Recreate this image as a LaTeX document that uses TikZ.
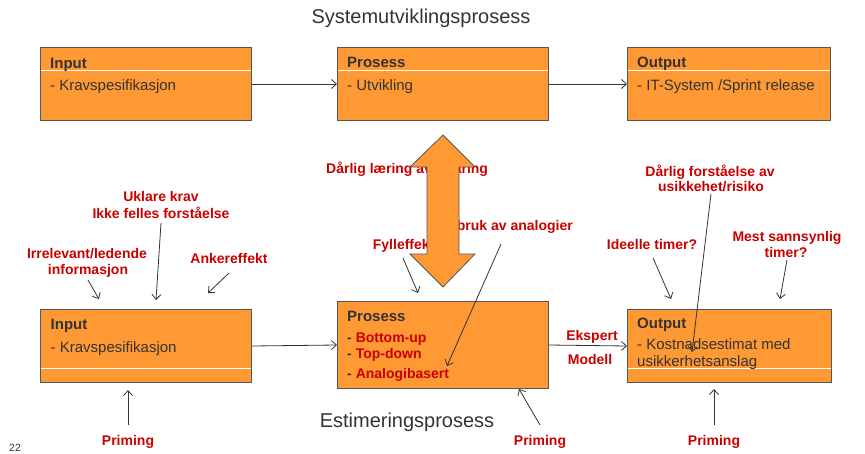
\documentclass[tikz,border=0pt]{standalone}
\usepackage{fontspec}
\setmainfont{Liberation Sans}
\usetikzlibrary{arrows.meta}
\definecolor{boxfill}{RGB}{255,153,51}
\definecolor{boxline}{RGB}{85,85,85}
\definecolor{txt}{RGB}{51,51,51}
\definecolor{warn}{RGB}{200,0,0}

\begin{document}
\begin{tikzpicture}[x=1pt,y=-1pt,
  box/.style={draw=boxline, line width=1pt, fill=boxfill, anchor=north west,
    inner sep=0pt, minimum width=#1, minimum height=73pt},
  box/.default=211pt,
  sep/.style={draw=white, line width=1pt},
  title/.style={font=\fontsize{20}{24}\selectfont, text=txt, anchor=base, inner sep=0pt},
  head/.style={font=\fontsize{15}{18}\selectfont\bfseries, text=txt, anchor=base west, inner sep=0pt},
  item/.style={font=\fontsize{15}{18}\selectfont, text=txt, anchor=base west, inner sep=0pt},
  ritem/.style={font=\fontsize{14}{17}\selectfont\bfseries, text=warn, anchor=base west, inner sep=0pt},
  note/.style={font=\fontsize{14}{17}\selectfont\bfseries, text=warn, anchor=base, inner sep=0pt},
  arr/.style={draw=txt, line width=0.8pt, -{Straight Barb[length=5pt,width=9pt]}},
  bigarrow/.style={fill=boxfill, draw=boxline, line width=0.8pt, line join=miter}
]
\useasboundingbox (0,0) rectangle (865,453);

% ---------- system development process ----------
\node[title] (systitle) at (421,23) {Systemutviklingsprosess};

\node[box] (in1) at (40,47) {};
\node[box] (pr1) at (337,47) {};
\node[box=203pt] (out1) at (627,47) {};
\draw[sep] (40.5,70) -- (250.5,70);
\draw[sep] (337.5,70) -- (547.5,70);
\draw[sep] (627.5,70) -- (829.5,70);

\node[head] (in1h) at (50,68) {Input};
\node[item] (in1t) at (50,90.5) {- Kravspesifikasjon};
\node[head] (pr1h) at (347,67.5) {Prosess};
\node[item] (pr1t) at (347,90) {- Utvikling};
\node[head] (out1h) at (637,67.5) {Output};
\node[item] (out1t) at (637,90) {- IT-System /Sprint release};

\draw[arr] (in1.east) -- (pr1.west);
\draw[arr] (pr1.east) -- (out1.west);

% ---------- estimation process ----------
\node[box] (in2) at (40,309) {};
\node[box, minimum height=87pt] (pr2) at (337,301) {};
\node[box=204pt] (out2) at (627,309) {};
\draw[sep] (40.5,368) -- (250.5,368);
\draw[sep] (627.5,368) -- (830.5,368);

\node[head] (in2h) at (50.5,329) {Input};
\node[item] (in2t) at (50.5,352) {- Kravspesifikasjon};

\node[head] (pr2h) at (347,321) {Prosess};
\node[ritem] (pr2a) at (347,342) {\textcolor{txt}{-} Bottom-up};
\node[ritem] (pr2b) at (347,358) {\textcolor{txt}{-} Top-down};
\node[ritem] (pr2c) at (347,378) {\textcolor{txt}{-} Analogibasert};

\node[head] (out2h) at (637,328) {Output};
\node[item] (out2t) at (637,349) {- Kostnadsestimat med};
\node[item] (out2u) at (637,366) {usikkerhetsanslag};

\node[title] (esttitle) at (407,427.5) {Estimeringsprosess};

\draw[arr] (in2.east) -- (pr2.west);
\draw[arr] (pr2.east) -- (out2.west);
\node[note] (eksp) at (592,340) {Ekspert};
\node[note] (mod) at (590,364) {Modell};

% ---------- biases around the input ----------
\node[note] (ukl1) at (161,201.5) {Uklare krav};
\node[note] (ukl2) at (161,218) {Ikke felles forståelse};
\node[note] (irr1) at (87,258) {Irrelevant/ledende};
\node[note] (irr2) at (88,274) {informasjon};
\node[note] (ank) at (229,263) {Ankereffekt};

\coordinate (ukl-s) at (161,223);
\coordinate (ukl-e) at (156,300);
\coordinate (irr-s) at (88,280);
\coordinate (irr-e) at (99,299);
\coordinate (ank-s) at (229,273);
\coordinate (ank-e) at (208,293);
\draw[arr] (ukl-s) -- (ukl-e);
\draw[arr] (irr-s) -- (irr-e);
\draw[arr] (ank-s) -- (ank-e);

% ---------- biases around the process ----------
\node[note, anchor=base west] (dl) at (326,173) {Dårlig læring av erfaring};
\node[note, anchor=base west] (fyl) at (372.7,249) {Fylleffekt};
\node[note, anchor=base east] (feil) at (573,230.7) {Feil bruk av analogier};

\coordinate (fyl-s) at (403,258);
\coordinate (fyl-e) at (418,293);
\coordinate (feil-s) at (501,244);
\coordinate (feil-e) at (447,366);
\draw[arr] (fyl-s) -- (fyl-e);
\draw[arr] (feil-s) -- (feil-e);

% learning loop between the two processes
\draw[bigarrow] (443,135) -- (475,167) -- (459,167) -- (459,254) -- (475,254)
  -- (443,287) -- (410,254) -- (427,254) -- (427,167) -- (410,167) -- cycle;

% ---------- biases around the output ----------
\node[note] (ds1) at (710,176) {Dårlig forståelse av};
\node[note] (ds2) at (711,191.7) {usikkehet/risiko};
\node[note] (ide) at (652,249) {Ideelle timer?};
\node[note] (mest1) at (787,241.7) {Mest sannsynlig};
\node[note] (mest2) at (786,257) {timer?};

\coordinate (ds-s) at (711,194);
\coordinate (ds-e) at (692,352);
\coordinate (ide-s) at (653,258);
\coordinate (ide-e) at (671,299);
\coordinate (mest-s) at (787,260);
\coordinate (mest-e) at (780,299);
\draw[arr] (ds-s) -- (ds-e);
\draw[arr] (ide-s) -- (ide-e);
\draw[arr] (mest-s) -- (mest-e);

% ---------- priming ----------
\node[note] (pri1) at (128,445.7) {Priming};
\node[note] (pri2) at (540,445.7) {Priming};
\node[note] (pri3) at (714,445.7) {Priming};
\coordinate (pri1-s) at (128,425);
\coordinate (pri1-e) at (128,390);
\coordinate (pri2-s) at (540,425);
\coordinate (pri2-e) at (519,389);
\coordinate (pri3-s) at (714,425);
\coordinate (pri3-e) at (714,389);
\draw[arr] (pri1-s) -- (pri1-e);
\draw[arr] (pri2-s) -- (pri2-e);
\draw[arr] (pri3-s) -- (pri3-e);

% page number
\node[font=\fontsize{10.5}{12}\selectfont, text=txt, anchor=base west, inner sep=0pt] (pageno) at (9,451) {22};
\end{tikzpicture}
\end{document}
